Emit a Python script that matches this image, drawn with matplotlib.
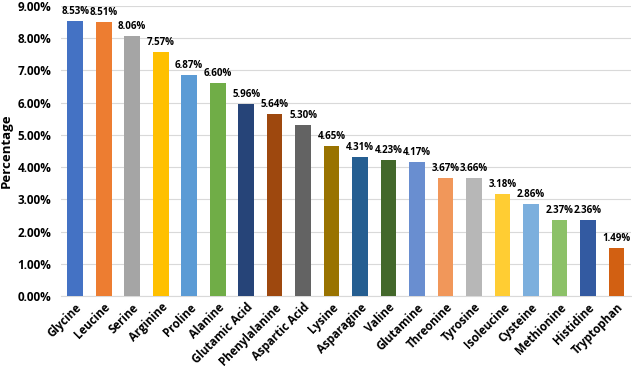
import matplotlib.pyplot as plt
from matplotlib.ticker import FuncFormatter

plt.rcParams['font.family'] = ['Open Sans', 'DejaVu Sans']

amino = ["Glycine", "Leucine", "Serine", "Arginine", "Proline", "Alanine",
         "Glutamic Acid", "Phenylalanine", "Aspartic Acid", "Lysine", "Asparagine",
         "Valine", "Glutamine", "Threonine", "Tyrosine", "Isoleucine", "Cysteine",
         "Methionine", "Histidine", "Tryptophan"]
pct = [8.53, 8.51, 8.06, 7.57, 6.87, 6.60, 5.96, 5.64, 5.30, 4.65, 4.31,
       4.23, 4.17, 3.67, 3.66, 3.18, 2.86, 2.37, 2.36, 1.49]
colors = ["#4472C4", "#ED7D31", "#A5A5A5", "#FFC000", "#5B9BD5", "#70AD47",
          "#264478", "#9E480E", "#636363", "#997300", "#255E91", "#43682B",
          "#698ED0", "#F1975A", "#B7B7B7", "#FFCD33", "#7CAFDD", "#8CC168",
          "#335AA1", "#D26012"]

fig = plt.figure(figsize=(6.32, 3.77), dpi=100)
ax = fig.add_axes([0.0965, 0.215, 0.9015, 0.769])

x = range(len(amino))
bars = ax.bar(x, pct, width=0.55, color=colors, zorder=3)
for i, v in enumerate(pct):
    ax.text(i, v + 0.12, f"{v:.2f}%", ha="center", va="bottom",
            fontsize=7, fontweight="bold", zorder=4)

ax.set_ylim(0, 9)
ax.set_xlim(-0.5, len(amino) - 0.5)
ax.set_yticks([i for i in range(10)])
ax.yaxis.set_major_formatter(FuncFormatter(lambda v, p: f"{v:.2f}%"))
ax.grid(axis="y", color="#D9D9D9", linewidth=0.8, zorder=0)
for s in ["top", "right", "left"]:
    ax.spines[s].set_visible(False)
ax.spines["bottom"].set_color("#D9D9D9")
ax.tick_params(axis="both", length=0)
ax.tick_params(axis="y", labelsize=8.5, pad=7)
for t in ax.get_yticklabels():
    t.set_fontweight("bold")
ax.set_xticks(list(x))
ax.set_xticklabels(amino, rotation=45, ha="right", rotation_mode="anchor",
                   fontsize=8.3, fontweight="bold")
ax.set_ylabel("Percentage", fontsize=9.5, fontweight="bold", labelpad=3)

fig.savefig("out.png", dpi=100)
